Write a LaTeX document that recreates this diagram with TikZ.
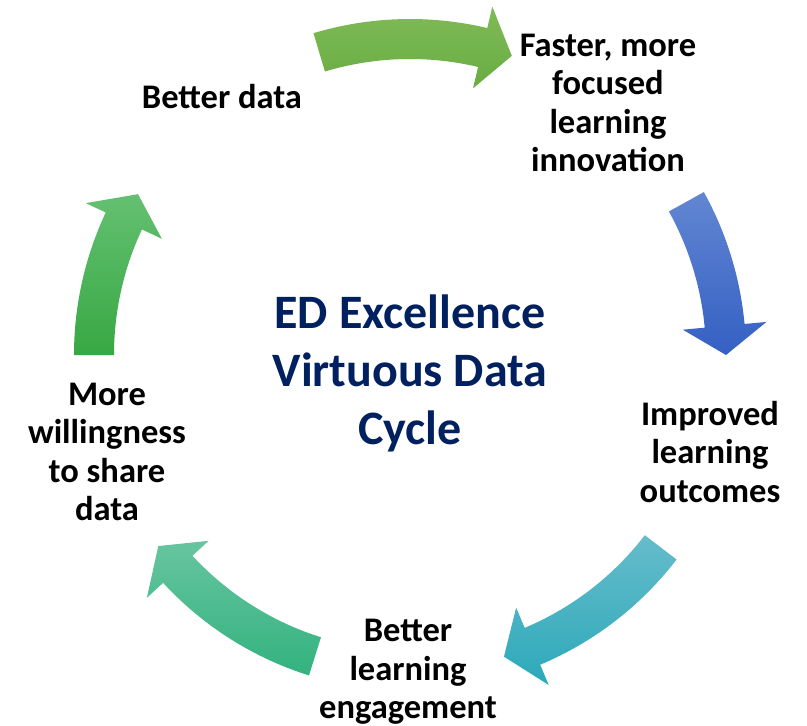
\documentclass[tikz,border=0pt]{standalone}
\usepackage{fontspec}
\setmainfont{Carlito}
\definecolor{titleblue}{HTML}{002060}
\definecolor{aOneT}{HTML}{80BA58}\definecolor{aOneB}{HTML}{68AD42}
\definecolor{aTwoT}{HTML}{6186D2}\definecolor{aTwoB}{HTML}{3560C3}
\definecolor{aThrT}{HTML}{66BCCA}\definecolor{aThrB}{HTML}{2CA9BA}
\definecolor{aFouT}{HTML}{67C59F}\definecolor{aFouB}{HTML}{33B27F}
\definecolor{aFivT}{HTML}{64C071}\definecolor{aFivB}{HTML}{37A843}
\newcommand\cycarrow[5]{%
  \shade[top color=#4,bottom color=#5]
    (#1:336) arc[start angle=#1,end angle=#2,radius=336]
    -- (#2:358) -- (#3:316) -- (#2:274) -- (#2:296)
    arc[start angle=#2,end angle=#1,radius=296] -- cycle;}
\tikzset{
  lbl/.style={align=center,inner sep=0pt,font=\bfseries\fontsize{34.5}{38.5}\selectfont},
  ttl/.style={align=center,inner sep=0pt,text=titleblue,font=\bfseries\fontsize{48}{58}\selectfont}
}
\begin{document}
\begin{tikzpicture}[x=1pt,y=1pt]
\useasboundingbox (-410,-371) rectangle (397,355);
\cycarrow{106.7}{76.7}{71.2}{aOneT}{aOneB}
\cycarrow{29}{5.3}{0}{aTwoT}{aTwoB}
\cycarrow{-37.5}{-67.2}{-72.7}{aThrT}{aThrB}
\cycarrow{-107.5}{-137.3}{-142.8}{aFouT}{aFouB}
\cycarrow{180}{154.9}{149.4}{aFivT}{aFivB}
\node[lbl] (bd) at (-188,258) {Better data};
\node[lbl] (fm) at (198,252) {Faster, more\\focused\\learning\\innovation};
\node[lbl] (il) at (300,-97) {Improved\\learning\\outcomes};
\node[lbl] (ble) at (-2,-317) {Better\\learning\\engagement};
\node[lbl] (mw) at (-303,-97) {More\\willingness\\to share\\data};
\node[ttl] (title) at (0,-18) {ED Excellence\\Virtuous Data\\Cycle};
\end{tikzpicture}
\end{document}
